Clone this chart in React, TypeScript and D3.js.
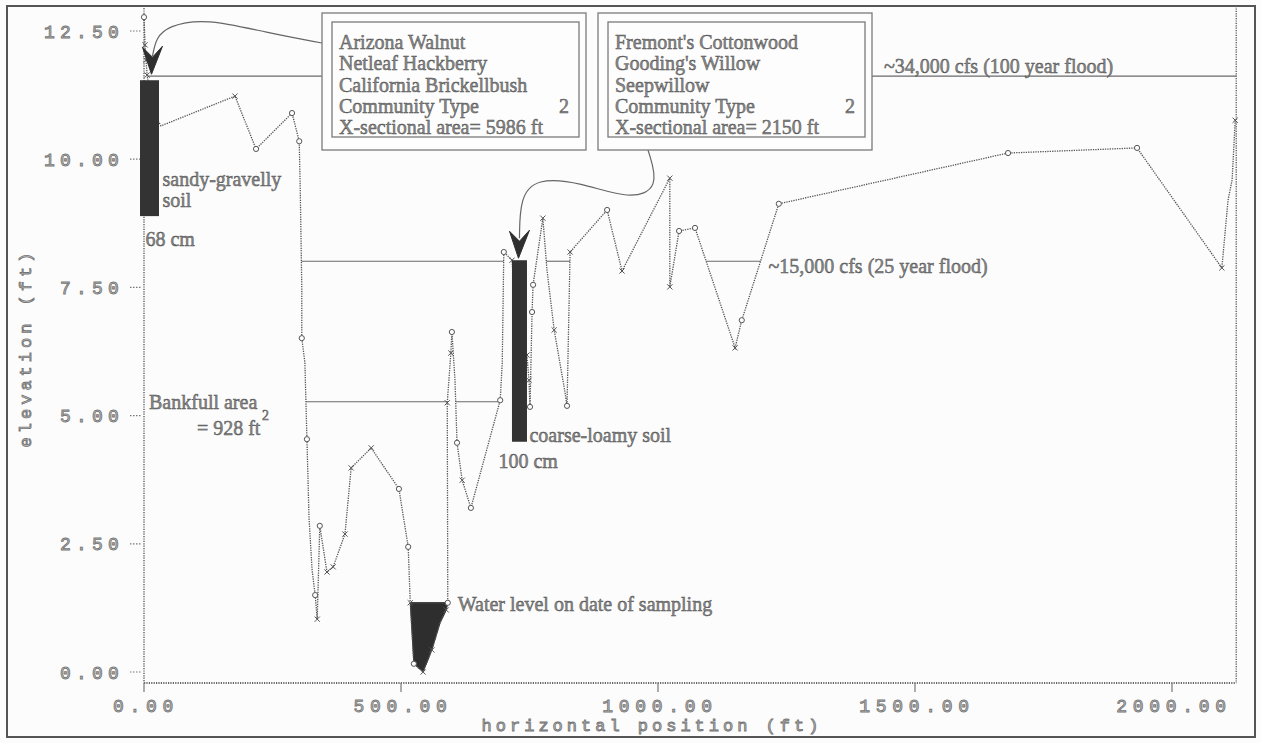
import React from "react";
import * as d3 from "d3";

// Surveyed cross-section: station (ft) and ground elevation (ft)
const stationFt = [
  0, 2, 4, 6, 16, 33, 177, 218, 288, 302, 304, 307, 307, 313, 317, 321, 327, 333, 337, 342,
  356, 368, 391, 403, 442, 496, 514, 518, 525, 543, 560, 576, 588, 591, 590, 597, 599, 605, 609, 619,
  636, 693, 697, 700, 716, 730, 745, 749, 751, 755, 757, 776, 784, 798, 819, 823, 829, 901, 930, 1023,
  1023, 1041, 1072, 1150, 1163, 1235, 1681, 1932, 2097, 2109, 2117, 2123,
];
const elevationFt = [
  12.77, 12.23, 11.93, 11.64, 10.96, 10.65, 11.23, 10.2, 10.9, 10.35, 9.4, 7.49, 6.51, 6.03, 4.54, 3.02, 1.99, 1.5, 1.03, 2.85,
  1.95, 2.05, 2.69, 3.98, 4.37, 3.57, 2.44, 1.35, 0.16, 0.0, 0.43, 0.96, 1.21, 1.35, 5.25, 6.22, 6.63, 5.7, 4.47, 3.74,
  3.2, 5.3, 6.03, 8.19, 8.03, 6.0, 6.18, 5.69, 5.17, 7.02, 7.55, 8.85, 7.84, 6.67, 5.46, 5.19, 8.19, 9.01, 7.82, 9.63,
  7.51, 8.6, 8.66, 6.32, 6.86, 9.13, 10.12, 10.22, 7.88, 9.2, 9.6, 10.76,
];
// survey symbol per shot: o = ground shot, x = break in slope, "" = no symbol
const markerKind = [
  "o", "x", "x", "x", "", "", "x", "o", "o", "o", "", "", "o", "", "o", "", "", "o", "x", "o",
  "x", "x", "x", "x", "x", "o", "o", "x", "o", "x", "x", "", "x", "o", "x", "x", "o", "", "o", "x",
  "o", "o", "", "o", "x", "", "x", "x", "o", "o", "o", "x", "", "x", "", "o", "x", "o", "x", "x",
  "x", "o", "o", "x", "o", "o", "o", "o", "x", "", "", "x",
];

// Stage levels (ft) and the stations that seed each wetted span
const floodLabels = ["~34,000 cfs (100 year flood)", "~15,000 cfs (25 year flood)"];
const stage100yr = 11.62;
const stage25yr = 8.01;
const stageBankfull = 5.27;
const stageWater = 1.35;
const seeds100yr = [16];
const seeds25yr = [540, 798, 1150];
const seedsBankfull = [496, 619];
const seedsWater = [543];

// Soil pits
const soilStation = [10.7, 730.5];
const soilTop = [11.54, 8.03];
const soilBottom = [8.89, 4.49];
const soilTexture = [["sandy-gravelly", "soil"], ["coarse-loamy soil"]];
const soilDepth = ["68 cm", "100 cm"];

// Vegetation community notes
const communityA = ["Arizona Walnut", "Netleaf Hackberry", "California Brickellbush"];
const communityB = ["Fremont's Cottonwood", "Gooding's Willow", "Seepwillow"];
const communityType = [2, 2];
const sectionArea = [5986, 2150];
const bankfullArea = 928;

const xTicks = [0, 500, 1000, 1500, 2000];
const yTicks = [0, 2.5, 5, 7.5, 10, 12.5];
const stationEnd = 2125;

const W = 1261;
const H = 743;
const xScale = d3.scaleLinear().domain([0, 2000]).range([144, 1172]);
const yScale = d3.scaleLinear().domain([0, 12.5]).range([672, 31]);
const plotBottom = 683;
const plotTop = 6;

const n = stationFt.length;
const cross = (a: number, b: number, lvl: number) =>
  stationFt[a] + ((lvl - elevationFt[a]) / (elevationFt[b] - elevationFt[a])) * (stationFt[b] - stationFt[a]);

// Walk out from a seed station until the ground rises above the stage
function wettedSpan(level: number, seed: number) {
  let i = 0;
  let best = Infinity;
  for (let k = 0; k < n; k++) {
    const d = Math.abs(stationFt[k] - seed);
    if (elevationFt[k] <= level && d < best) {
      best = d;
      i = k;
    }
  }
  let l = i;
  while (l > 0 && elevationFt[l - 1] <= level) l--;
  let r = i;
  while (r < n - 1 && elevationFt[r + 1] <= level) r++;
  const left = l === 0 ? stationFt[0] : cross(l - 1, l, level);
  const right = r === n - 1 ? stationEnd : cross(r, r + 1, level);
  return { left, right, l, r };
}

const serif = "'Liberation Serif', 'Times New Roman', serif";
const mono = "'Liberation Mono', 'DejaVu Sans Mono', monospace";
const inkText = { fill: "#8a8a8a", stroke: "#4d4d4d", strokeWidth: 0.45 };
const axisText = { fill: "#c4c4c4", stroke: "#747474", strokeWidth: 0.85 };
const lineInk = "#555";

function StageLine({ level, seeds }: { level: number; seeds: number[] }) {
  return (
    <g>
      {seeds.map((s, i) => {
        const sp = wettedSpan(level, s);
        return (
          <line
            key={i}
            x1={xScale(sp.left)}
            x2={xScale(sp.right)}
            y1={yScale(level)}
            y2={yScale(level)}
            stroke="#6a6a6a"
            strokeWidth={1.1}
          />
        );
      })}
    </g>
  );
}

function NoteBox({ x, lines, type, area }: { x: number; lines: string[]; type: number; area: number }) {
  const y = 13;
  const w = x < 500 ? 264 : 274;
  const h = 137;
  const all = [...lines, "Community Type", `X-sectional area= ${area} ft`];
  return (
    <g>
      <rect x={x} y={y} width={w} height={h} fill="#fdfdfd" stroke="#7a7a7a" strokeWidth={1.3} />
      <rect x={x + 10} y={y + 9} width={w - 17} height={h - 22} fill="none" stroke="#7a7a7a" strokeWidth={1.3} />
      {all.map((t, i) => (
        <text key={i} x={x + 17} y={y + 36 + i * 21.3} fontFamily={serif} fontSize={20} {...inkText}>
          {t}
        </text>
      ))}
      <text x={x + w - 17} y={y + 36 + 3 * 21.3} textAnchor="end" fontFamily={serif} fontSize={20} {...inkText}>
        {type}
      </text>
    </g>
  );
}

function Arrowhead({ x, y }: { x: number; y: number }) {
  const pts = [
    [x - 9, y - 27],
    [x + 1, y - 17],
    [x + 11, y - 28],
    [x, y],
  ];
  return <polygon points={pts.map((p) => p.join(",")).join(" ")} fill="#2f2f2f" stroke="#2f2f2f" strokeWidth={1} />;
}

export default function App() {
  const pts = stationFt.map((s, i) => [xScale(s), yScale(elevationFt[i])] as [number, number]);
  const profilePath = d3.line()(pts) ?? "";

  const water = wettedSpan(stageWater, seedsWater[0]);
  const waterPts: [number, number][] = [[xScale(water.left), yScale(stageWater)]];
  for (let k = water.l; k <= water.r; k++) waterPts.push([xScale(stationFt[k]), yScale(elevationFt[k])]);
  waterPts.push([xScale(water.right), yScale(stageWater)]);
  const waterPath = (d3.line()(waterPts) ?? "") + "Z";

  const span25 = wettedSpan(stage25yr, seeds25yr[seeds25yr.length - 1]);
  const bank = wettedSpan(stageBankfull, seedsBankfull[0]);

  const tip1 = [xScale(soilStation[0]) + 2, yScale(soilTop[0]) - 6];
  const tip2 = [xScale(soilStation[1]) - 1, yScale(soilTop[1]) - 2];
  const curve = d3.line().curve(d3.curveBasis);
  const conn1 = curve([
    [322, 43],
    [268, 33],
    [205, 18],
    [168, 26],
    [156, 38],
    [tip1[0] + 1, tip1[1] - 18],
  ]);
  const conn2 = curve([
    [648, 150],
    [660, 188],
    [630, 200],
    [580, 182],
    [536, 178],
    [520, 198],
    [tip2[0] + 1, tip2[1] - 20],
  ]);

  const sw = [19, 15];

  return (
    <svg
      width={W}
      height={H}
      viewBox={`0 0 ${W} ${H}`}
      style={{ position: "absolute", left: 0, top: 0, display: "block", background: "#fcfcfc" }}
    >
      <rect x={7} y={6} width={1248} height={731} fill="#fcfcfc" stroke="#555" strokeWidth={2} />

      {/* plot frame */}
      <g stroke="#666" strokeDasharray="1.2 1.2" fill="none">
        <line x1={xScale(0)} x2={xScale(0)} y1={plotTop + 2} y2={plotBottom} strokeWidth={1.5} />
        <line x1={xScale(stationEnd)} x2={xScale(stationEnd)} y1={plotTop} y2={plotBottom} strokeWidth={1.5} />
        <line x1={xScale(0)} x2={xScale(stationEnd)} y1={plotBottom} y2={plotBottom} strokeWidth={2.2} />
      </g>

      {/* y axis */}
      {yTicks.map((t) => (
        <g key={t}>
          <line x1={130} x2={142} y1={yScale(t)} y2={yScale(t)} stroke="#777" strokeDasharray="1.5 1.5" strokeWidth={1.2} />
          <text
            x={124}
            y={yScale(t) + 6.5}
            textAnchor="end"
            fontFamily={mono}
            fontSize={18}
            letterSpacing={5.2}
            {...axisText}
          >
            {t.toFixed(2)}
          </text>
        </g>
      ))}
      <text
        transform={`translate(31, 348) rotate(-90)`}
        textAnchor="middle"
        fontFamily={mono}
        fontSize={17}
        letterSpacing={4}
        {...axisText}
      >
        elevation (ft)
      </text>

      {/* x axis */}
      {xTicks.map((t) => (
        <g key={t}>
          <line x1={xScale(t)} x2={xScale(t)} y1={plotBottom} y2={plotBottom + 9} stroke="#777" strokeWidth={1.2} />
          <text
            x={xScale(t) + 2}
            y={712}
            textAnchor="middle"
            fontFamily={mono}
            fontSize={18}
            letterSpacing={5.7}
            {...axisText}
          >
            {t.toFixed(2)}
          </text>
        </g>
      ))}
      <text x={652} y={731} textAnchor="middle" fontFamily={mono} fontSize={17} letterSpacing={4} {...axisText}>
        horizontal position (ft)
      </text>

      {/* stage lines */}
      <StageLine level={stage100yr} seeds={seeds100yr} />
      <StageLine level={stage25yr} seeds={seeds25yr} />
      <StageLine level={stageBankfull} seeds={seedsBankfull} />

      {/* water on sampling date */}
      <path d={waterPath} fill="#2e2e2e" stroke="#2e2e2e" strokeWidth={1} />
      <line
        x1={xScale(water.left)}
        x2={xScale(water.right)}
        y1={yScale(stageWater)}
        y2={yScale(stageWater)}
        stroke="#444"
        strokeWidth={1.5}
      />

      {/* ground profile */}
      <path d={profilePath} fill="none" stroke={lineInk} strokeWidth={1.3} strokeDasharray="1.3 1.1" />
      {pts.map(([x, y], i) =>
        markerKind[i] === "o" ? (
          <circle key={i} cx={x} cy={y} r={2.6} fill="#fcfcfc" stroke={lineInk} strokeWidth={1} />
        ) : markerKind[i] === "x" ? (
          <path
            key={i}
            d={`M${x - 2.6},${y - 2.6}L${x + 2.6},${y + 2.6}M${x - 2.6},${y + 2.6}L${x + 2.6},${y - 2.6}`}
            stroke={lineInk}
            strokeWidth={1}
          />
        ) : null
      )}

      {/* soil pits */}
      {soilStation.map((s, i) => (
        <rect
          key={i}
          x={xScale(s) - sw[i] / 2}
          y={yScale(soilTop[i])}
          width={sw[i]}
          height={yScale(soilBottom[i]) - yScale(soilTop[i])}
          fill="#333"
        />
      ))}
      <text fontFamily={serif} fontSize={20} {...inkText}>
        {soilTexture[0].map((t, i) => (
          <tspan key={i} x={xScale(soilStation[0]) + 13} y={186 + i * 21}>
            {t}
          </tspan>
        ))}
      </text>
      <text x={xScale(soilStation[0]) - 4} y={246} fontFamily={serif} fontSize={20} {...inkText}>
        {soilDepth[0]}
      </text>
      <text x={xScale(soilStation[1]) + 10} y={yScale(soilBottom[1])} fontFamily={serif} fontSize={20} {...inkText}>
        {soilTexture[1][0]}
      </text>
      <text x={xScale(soilStation[1]) - 21} y={yScale(soilBottom[1]) + 26} fontFamily={serif} fontSize={20} {...inkText}>
        {soilDepth[1]}
      </text>

      {/* stage labels */}
      <rect x={322} y={13} width={550} height={137} fill="#fcfcfc" />
      <text x={884} y={yScale(stage100yr) - 3} fontFamily={serif} fontSize={20} {...inkText}>
        {floodLabels[0]}
      </text>
      <text x={xScale(span25.right) + 8} y={yScale(stage25yr) + 12} fontFamily={serif} fontSize={20} {...inkText}>
        {floodLabels[1]}
      </text>
      <text x={149} y={yScale(stageBankfull) + 7} fontFamily={serif} fontSize={20} {...inkText}>
        Bankfull area
      </text>
      <text x={xScale(bank.left) - 109} y={yScale(stageBankfull) + 33} fontFamily={serif} fontSize={20} {...inkText}>
        = {bankfullArea} ft
      </text>
      <text x={262} y={yScale(stageBankfull) + 18} fontFamily={serif} fontSize={14} {...inkText}>
        2
      </text>
      <text x={xScale(water.right) + 10} y={yScale(stageWater) + 8} fontFamily={serif} fontSize={20} {...inkText}>
        Water level on date of sampling
      </text>

      {/* community notes with leaders */}
      <path d={conn1 ?? ""} fill="none" stroke="#666" strokeWidth={1.2} />
      <Arrowhead x={tip1[0]} y={tip1[1]} />
      <path d={conn2 ?? ""} fill="none" stroke="#666" strokeWidth={1.2} />
      <Arrowhead x={tip2[0]} y={tip2[1]} />
      <NoteBox x={322} lines={communityA} type={communityType[0]} area={sectionArea[0]} />
      <NoteBox x={598} lines={communityB} type={communityType[1]} area={sectionArea[1]} />
    </svg>
  );
}
